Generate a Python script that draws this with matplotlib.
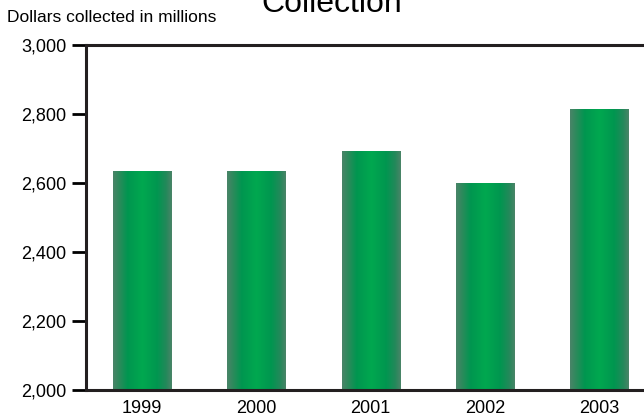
import matplotlib.pyplot as plt
import numpy as np
from matplotlib.colors import LinearSegmentedColormap

plt.rcParams['font.family'] = ['Liberation Sans', 'DejaVu Sans']

years = ['1999', '2000', '2001', '2002', '2003']
values = [2632, 2632, 2690, 2600, 2813]
yticks = [2000, 2200, 2400, 2600, 2800, 3000]

fig = plt.figure(figsize=(6.44, 4.18), dpi=100)
ax = fig.add_axes([86 / 644, 28 / 418, 1 - 86 / 644, 345 / 418])

cmap = LinearSegmentedColormap.from_list('bar', [
    (0.0, '#4a8468'), (0.1, '#2d8a5c'), (0.25, '#009650'),
    (0.5, '#00a84f'), (0.75, '#009650'), (0.9, '#22895a'), (1.0, '#4a8468')])
grad = np.linspace(0, 1, 256).reshape(1, -1)

x = np.arange(len(years))
bars = ax.bar(x, values, width=0.51, color='none')
for b in bars:
    x0, w, h = b.get_x(), b.get_width(), b.get_height()
    ax.imshow(grad, cmap=cmap, aspect='auto', extent=(x0, x0 + w, 2000, h),
              zorder=2, interpolation='bilinear')

ax.set_xlim(-0.49, 4.39)
ax.set_ylim(2000, 3000)
ax.set_xticks(x)
ax.set_xticklabels(years, fontsize=13)
ax.set_yticks(yticks)
ax.set_yticklabels([f'{v:,}' for v in yticks], fontsize=13)
ax.tick_params(axis='x', length=0, pad=7)
ax.tick_params(axis='y', length=10, width=2, pad=4)
for s in ['left', 'top', 'bottom']:
    ax.spines[s].set_linewidth(2.2)
    ax.spines[s].set_color('#231f20')
ax.spines['right'].set_visible(False)

fig.text(7 / 644, 1 - 22 / 418, 'Dollars collected in millions', fontsize=12.5, va='baseline')
fig.text(332 / 644, 1 - 12 / 418, 'Collection', fontsize=23, ha='center', va='baseline')

fig.savefig('out.png', dpi=100)
